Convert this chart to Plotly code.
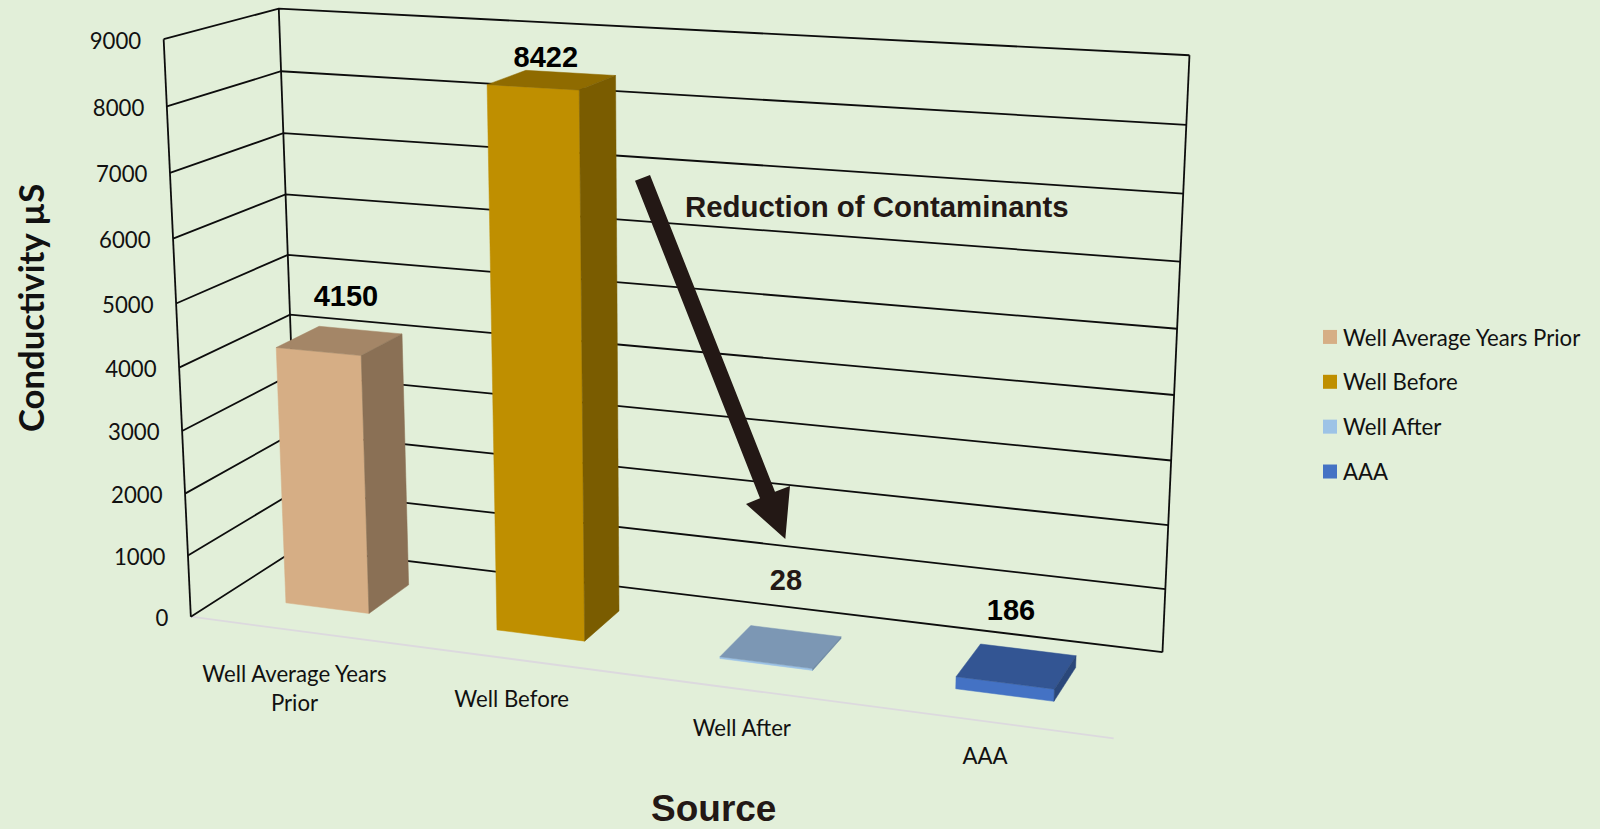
import numpy as np
import plotly.graph_objects as go

# ---------- chart data ----------
categories = ["Well Average Years Prior", "Well Before", "Well After", "AAA"]
category_text = ["Well Average Years<br>Prior", "Well Before", "Well After", "AAA"]
values = [4150, 8422, 28, 186]
y_ticks = [0, 1000, 2000, 3000, 4000, 5000, 6000, 7000, 8000, 9000]
y_title = "Conductivity µS"
x_title = "Source"
note_text = "Reduction of Contaminants"

# ---------- styles ----------
BG = "#e2efd9"
INK = "#231815"
TEXT = "#111111"
front_col = ["#d6ae85", "#bf8f00", "#9dc3e6", "#4472c4"]
top_col = ["#a48667", "#8f6b00", "#7c97b4", "#335593"]
side_col = ["#8a7055", "#7a5c00", "#6f8aa6", "#2a477a"]
value_col = ["#000000", "#000000", INK, "#000000"]
SANS = "Lato, Carlito, Calibri, sans-serif"
BOLD = "Liberation Sans, Arial, sans-serif"
TICK_SIZE = 22.2

# Perspective camera of the 3-D box: (across, value, depth) -> picture, solved from the box edges
box_edges = [
 (0,9000,1,278.7,8),(0,8000,1,281,71),(0,7000,1,283.3,133.3),(0,6000,1,285.3,194.3),(0,5000,1,288,255.3),
 (0,4000,1,290,314.7),(0,0,1,299,548),
 (1,9000,1,1190.4,55),(1,8000,1,1186,125),(1,7000,1,1183,193.7),(1,6000,1,1179.4,262),(1,2000,1,1168,525),
 (1,1000,1,1165,589),(1,0,1,1163,652.3),
 (0,9000,0,163,39.5),(0,8000,0,167,106.7),(0,7000,0,170,173),(0,6000,0,173.7,238.7),(0,5000,0,176.7,303.7),
 (0,4000,0,179.3,367.7),(0,3000,0,182,430.7),(0,2000,0,185,493.3),(0,1000,0,187.7,555.3),(0,0,0,190,616.7),
 (1,0,0,1114,738.3),
]
rows = []
for X, V, Z, u, w in box_edges:
    v = V / 9000
    rows.append([X, v, Z, 1, 0, 0, 0, 0, -u*X, -u*v, -u*Z, -u])
    rows.append([0, 0, 0, 0, X, v, Z, 1, -w*X, -w*v, -w*Z, -w])
CAM = np.linalg.svd(np.array(rows, float))[2][-1].reshape(3, 4)


def proj(x, V, z):
    h = CAM @ np.array([x, V / 9000, z, 1.0])
    return h[0] / h[2], h[1] / h[2]


def poly(points):
    pts = [proj(*p) for p in points]
    pts.append(pts[0])
    return [p[0] for p in pts], [p[1] for p in pts]


def segments(pairs):
    xs, ys = [], []
    for path in pairs:
        for p in path:
            a, b = proj(*p)
            xs.append(a)
            ys.append(b)
        xs.append(None)
        ys.append(None)
    return xs, ys


fig = go.Figure()

# floor edge at the front
xs, ys = segments([[(0, 0, 0), (1, 0, 0)]])
fig.add_trace(go.Scatter(x=xs, y=ys, mode="lines", line=dict(color="#dcd9de", width=1.8),
                         showlegend=False, hoverinfo="skip"))
# walls and gridlines
paths = [[(0, t, 0), (0, t, 1), (1, t, 1)] for t in y_ticks]
paths += [[(0, 0, 0), (0, 9000, 0)], [(0, 0, 1), (0, 9000, 1)], [(1, 0, 1), (1, 9000, 1)]]
xs, ys = segments(paths)
fig.add_trace(go.Scatter(x=xs, y=ys, mode="lines", line=dict(color="#0d0d0d", width=1.8),
                         showlegend=False, hoverinfo="skip"))

# bars
n = len(categories)
for i, (name, val) in enumerate(zip(categories, values)):
    x0 = (i + 0.3) / n
    x1 = (i + 0.7) / n
    z0, z1 = 0.3, 0.7
    faces = [
        (front_col[i], [(x0, 0, z0), (x1, 0, z0), (x1, val, z0), (x0, val, z0)]),
        (top_col[i], [(x0, val, z0), (x1, val, z0), (x1, val, z1), (x0, val, z1)]),
        (side_col[i], [(x1, 0, z0), (x1, 0, z1), (x1, val, z1), (x1, val, z0)]),
    ]
    for col, pts in faces:
        px, py = poly(pts)
        fig.add_trace(go.Scatter(x=px, y=py, mode="lines", fill="toself", fillcolor=col,
                                 line=dict(color=col, width=0.5), legendgroup=name, showlegend=False,
                                 hoverinfo="text", text=f"{name}: {val}"))
    fig.add_trace(go.Scatter(x=[None], y=[None], mode="markers", name=name, legendgroup=name,
                             marker=dict(symbol="square", size=14, color=front_col[i])))

# value labels
value_pos = [(346, 298.5), (545.8, 60), (786, 582.5), (1011, 612.5)]
for val, (a, b), col in zip(values, value_pos, value_col):
    fig.add_trace(go.Scatter(x=[a], y=[b], mode="text", text=[f"<b>{val}</b>"], textposition="middle center",
                             textfont=dict(family=BOLD, size=29, color=col), showlegend=False, hoverinfo="skip"))

# y tick labels follow the front-left edge
tick_xy = [proj(0, t, 0) for t in y_ticks]
fig.add_trace(go.Scatter(x=[p[0] - 22.5 for p in tick_xy], y=[p[1] + 3.8 for p in tick_xy], mode="text",
                         text=[str(t) for t in y_ticks], textposition="middle left",
                         textfont=dict(family=SANS, size=TICK_SIZE, color=TEXT), showlegend=False, hoverinfo="skip"))

# category labels
cat_pos = [(294.5, 691), (511.7, 701), (741.8, 730), (985, 758)]
fig.add_trace(go.Scatter(x=[p[0] for p in cat_pos], y=[p[1] for p in cat_pos], mode="text", text=category_text,
                         textposition="middle center", textfont=dict(family=SANS, size=TICK_SIZE, color=TEXT),
                         showlegend=False, hoverinfo="skip"))

# annotations
fig.add_annotation(x=876.5, y=206, xref="x", yref="y", text=f"<b>{note_text}</b>", showarrow=False,
                   font=dict(family=BOLD, size=29.4, color=INK))
fig.add_annotation(x=713.5, y=808.5, xref="x", yref="y", text=f"<b>{x_title}</b>", showarrow=False,
                   font=dict(family=BOLD, size=37, color=INK))
fig.add_annotation(x=30, y=308, xref="x", yref="y", text=f"<b>{y_title}</b>", showarrow=False, textangle=-90,
                   font=dict(family=SANS, size=34.7, color=TEXT))

arrow = "M635,180.7 L650,175 L775,491.7 L790,486 L785.3,539 L746,504 L760,498.3 Z"
fig.add_shape(type="path", path=arrow, xref="x", yref="y", fillcolor=INK, line=dict(width=0), layer="above")

fig.update_layout(
    width=1600, height=829, autosize=False,
    margin=dict(l=0, r=0, t=0, b=0),
    paper_bgcolor=BG, plot_bgcolor=BG,
    xaxis=dict(range=[0, 1600], visible=False, fixedrange=True),
    yaxis=dict(range=[829, 0], visible=False, fixedrange=True),
    legend=dict(x=1303 / 1600, y=1 - 316 / 829, xanchor="left", yanchor="top", bgcolor="rgba(0,0,0,0)",
                font=dict(family=SANS, size=TICK_SIZE, color=TEXT), tracegroupgap=13),
    showlegend=True,
)
fig.write_html("out.html", config=dict(displayModeBar=False),
               post_script="document.body.style.margin='0';document.body.style.overflow='hidden';"
                           "document.querySelectorAll('.legendsymbols').forEach(function(g){g.setAttribute('transform','translate(7,0)');});")
